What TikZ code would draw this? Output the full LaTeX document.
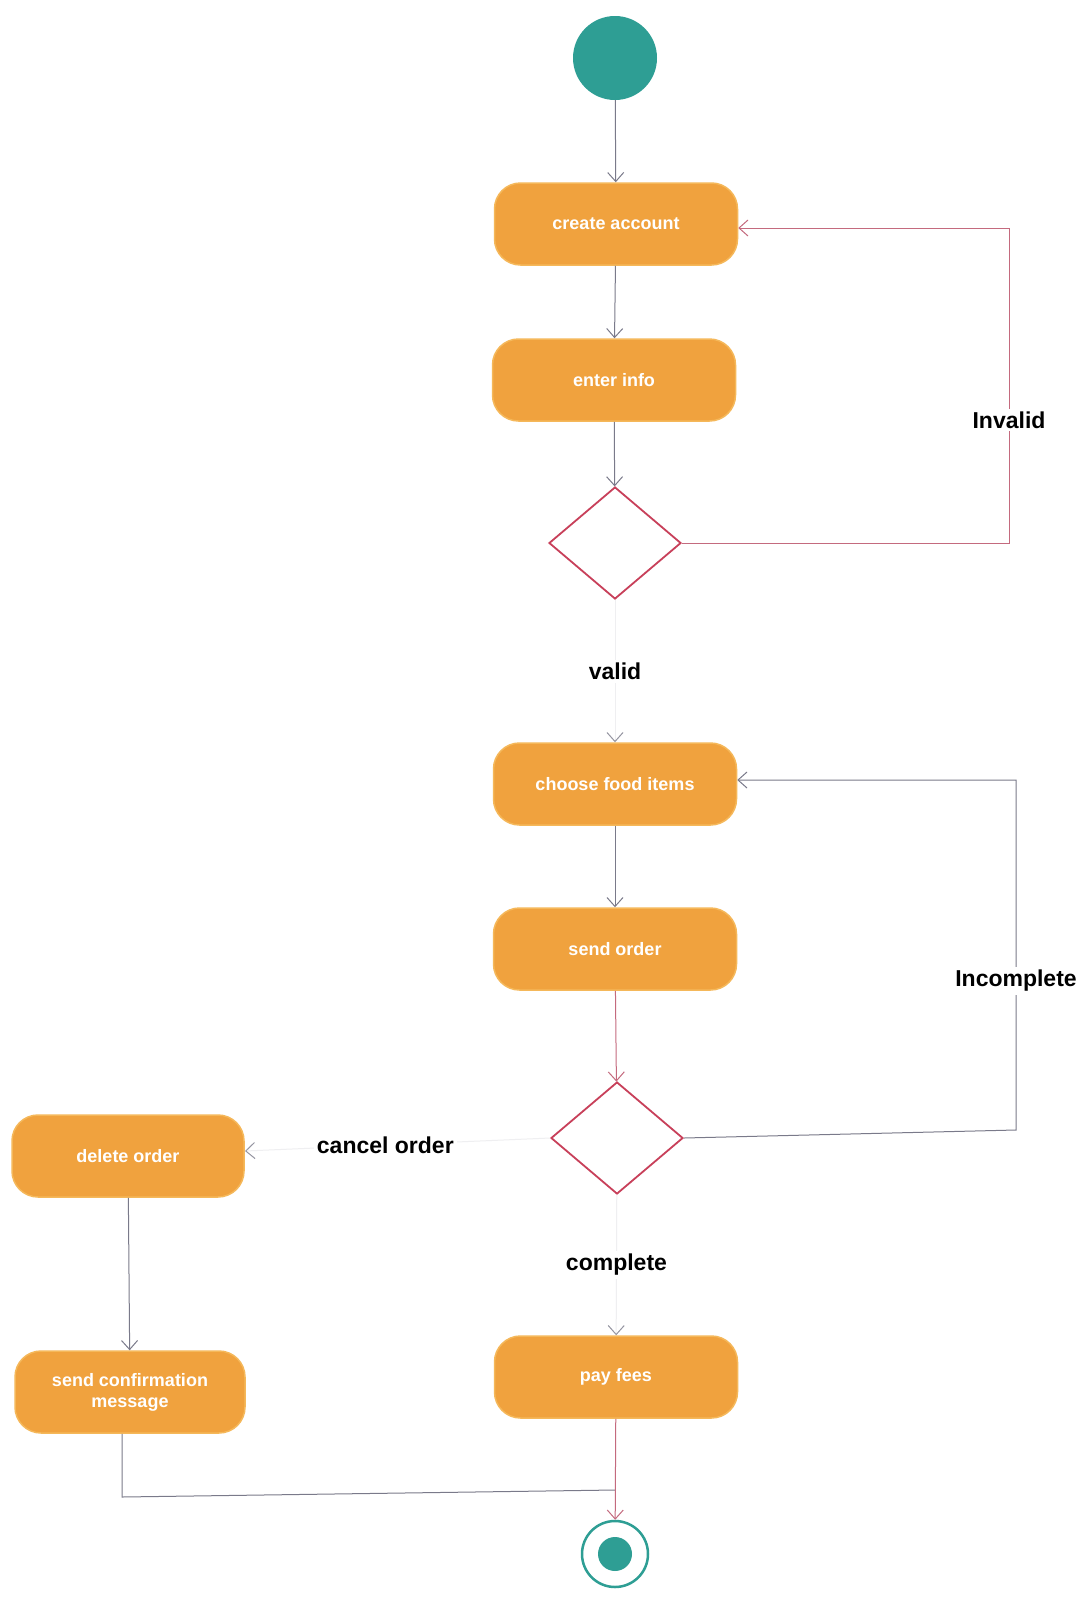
\documentclass[tikz,border=0pt]{standalone}
\usepackage{fontspec}
\setmainfont{Liberation Sans}
\usetikzlibrary{shapes.geometric,arrows.meta}
\definecolor{boxfill}{HTML}{F0A23E}
\definecolor{boxedge}{HTML}{F5B85A}
\definecolor{teal}{HTML}{2E9E94}
\definecolor{redline}{HTML}{C46A7E}
\definecolor{grayline}{HTML}{7A7A8A}
\definecolor{diaedge}{HTML}{C8405A}
\tikzset{
  act/.style={draw=boxedge, line width=1.5pt, fill=boxfill, rounded corners=26pt,
    minimum width=243pt, minimum height=82pt, text=white, font=\fontsize{18}{21}\selectfont\bfseries, align=center},
  dec/.style={diamond, draw=diaedge, line width=1.8pt, fill=white, minimum width=132pt, minimum height=112pt, inner sep=0pt},
  flow/.style={draw=grayline, line width=1pt, -{Straight Barb[length=9pt,width=16pt]}},
  rflow/.style={draw=redline, line width=1pt, -{Straight Barb[length=9pt,width=16pt]}},
  faint/.style={draw=grayline!12, line width=1pt, -{Straight Barb[length=9pt,width=16pt,color=grayline!80]}},
  lbl/.style={font=\fontsize{23}{26}\selectfont\bfseries, text=black, fill=white, inner sep=3pt}
}
\begin{document}
\begin{tikzpicture}[x=1pt,y=-1pt]
\path[fill=white] (0,0) rectangle (1083,1598);
\useasboundingbox (0,0) rectangle (1083,1598);
% nodes
\node[circle, fill=teal, minimum size=84pt, inner sep=0pt] (start) at (615,58) {};
\node[act] (a1) at (616,224) {create account};
\node[act] (a2) at (614,380) {enter info};
\node[dec] (d1) at (615,543) {};
\node[act] (a3) at (615,784) {choose food items};
\node[act] (a4) at (615,949) {send order};
\node[dec] (d2) at (617,1138) {};
\node[act, minimum width=232pt] (a5) at (128,1156) {delete order};
\node[act, minimum width=230pt] (a6) at (130,1392) {send confirmation\\message};
\node[act] (a7) at (616,1377) {pay fees};
\node[circle, draw=teal, line width=2.5pt, fill=white, minimum size=66pt, inner sep=0pt] (end) at (615,1554) {};
\node[circle, fill=teal, minimum size=34pt, inner sep=0pt] at (end) {};
\coordinate (c1) at (1009,543);
\coordinate (c2) at (1009,228);
\coordinate (c3) at (1016,1130);
\coordinate (c4) at (1016,780);
\coordinate (c5) at (122,1497);
\coordinate (c6) at (615,1490);
\coordinate (c7) at (245,1151);
% connectors
\draw[flow] (start) -- (a1);
\draw[flow] (a1) -- (a2);
\draw[flow] (a2) -- (d1);
\draw[rflow] (d1.east) -- (c1) -- (c2) -- (a1.east |- c2);
\node[lbl] at (1009,420) {Invalid};
\draw[faint] (d1) -- node[lbl] {valid} (a3);
\draw[flow] (a3) -- (a4);
\draw[rflow] (a4) -- (d2);
\draw[flow] (d2.east) -- (c3) -- (c4) -- (a3.east |- c4);
\node[lbl] at (1016,981) {Incomplete};
\draw[faint] (d2.west) -- node[lbl, pos=0.54] {cancel order} (c7);
\draw[faint] (d2) -- node[lbl] {complete} (a7);
\draw[flow] (a5) -- (a6);
\draw[grayline, line width=1pt] (a6.south -| c5) -- (c5) -- (c6);
\draw[rflow] (a7) -- (end);
\end{tikzpicture}
\end{document}
